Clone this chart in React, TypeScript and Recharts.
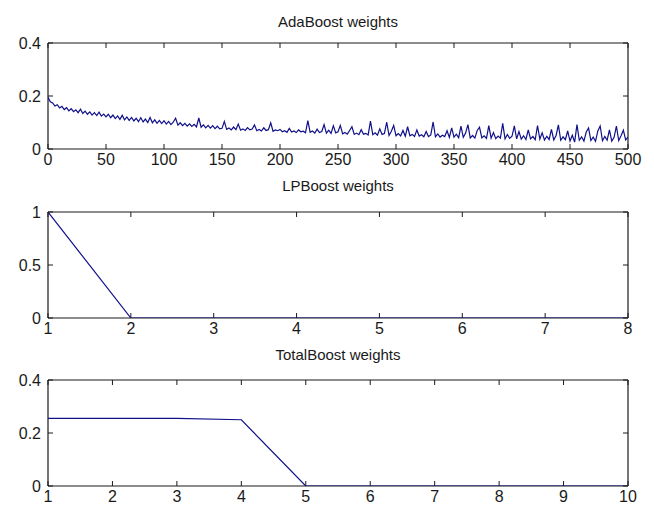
import { LineChart, Line, XAxis, YAxis, CartesianGrid } from 'recharts';

// AdaBoost weights, read every 2nd iteration (0..500)
const adaWeights = [
  0.195, 0.178, 0.174, 0.162, 0.167, 0.155, 0.161, 0.149, 0.156, 0.144, 0.152, 0.141, 0.148, 0.137, 0.150, 0.134, 0.143, 0.131, 0.140, 0.128, 0.137, 0.126, 0.139, 0.124, 0.132,
  0.121, 0.131, 0.118, 0.128, 0.115, 0.125, 0.112, 0.127, 0.110, 0.121, 0.108, 0.119, 0.106, 0.116, 0.103, 0.118, 0.102, 0.113, 0.100, 0.119, 0.099, 0.110, 0.097, 0.108, 0.096,
  0.107, 0.094, 0.104, 0.092, 0.101, 0.116, 0.090, 0.099, 0.088, 0.097, 0.086, 0.095, 0.085, 0.093, 0.083, 0.117, 0.082, 0.091, 0.080, 0.089, 0.079, 0.088, 0.077, 0.086, 0.076,
  0.078, 0.104, 0.074, 0.079, 0.072, 0.083, 0.073, 0.094, 0.071, 0.076, 0.070, 0.081, 0.072, 0.075, 0.091, 0.069, 0.074, 0.068, 0.080, 0.070, 0.073, 0.099, 0.067, 0.072, 0.069,
  0.074, 0.065, 0.069, 0.063, 0.078, 0.064, 0.068, 0.062, 0.072, 0.065, 0.067, 0.061, 0.107, 0.063, 0.068, 0.060, 0.075, 0.062, 0.066, 0.092, 0.060, 0.071, 0.059, 0.088, 0.061,
  0.065, 0.089, 0.057, 0.062, 0.056, 0.070, 0.084, 0.055, 0.060, 0.054, 0.073, 0.056, 0.059, 0.053, 0.105, 0.054, 0.061, 0.052, 0.076, 0.055, 0.058, 0.101, 0.051, 0.067, 0.089,
  0.050, 0.058, 0.049, 0.070, 0.048, 0.084, 0.050, 0.055, 0.047, 0.072, 0.049, 0.054, 0.046, 0.066, 0.047, 0.053, 0.102, 0.046, 0.057, 0.045, 0.052, 0.047, 0.069, 0.044, 0.080,
  0.045, 0.056, 0.043, 0.086, 0.044, 0.060, 0.092, 0.042, 0.051, 0.041, 0.070, 0.082, 0.042, 0.050, 0.040, 0.088, 0.041, 0.062, 0.039, 0.049, 0.041, 0.097, 0.038, 0.055, 0.040,
  0.048, 0.087, 0.038, 0.066, 0.037, 0.050, 0.036, 0.072, 0.038, 0.047, 0.035, 0.088, 0.037, 0.061, 0.034, 0.048, 0.036, 0.074, 0.034, 0.051, 0.091, 0.033, 0.046, 0.035, 0.068,
  0.030, 0.052, 0.026, 0.092, 0.033, 0.046, 0.030, 0.064, 0.079, 0.032, 0.045, 0.029, 0.068, 0.087, 0.031, 0.047, 0.033, 0.072, 0.030, 0.044, 0.086, 0.032, 0.050, 0.071, 0.034,
  0.045,
];
const adaXTicks = [0, 50, 100, 150, 200, 250, 300, 350, 400, 450, 500];
const adaYTicks = [0, 0.2, 0.4];

const lpIter = [1, 2, 3, 4, 5, 6, 7, 8];
const lpWeights = [1, 0, 0, 0, 0, 0, 0, 0];
const lpYTicks = [0, 0.5, 1];

const totalIter = [1, 2, 3, 4, 5, 6, 7, 8, 9, 10];
const totalWeights = [0.255, 0.255, 0.255, 0.25, 0, 0, 0, 0, 0, 0];
const totalYTicks = [0, 0.2, 0.4];

const adaData = adaWeights.map((w, i) => ({ x: i * 2, w }));
const lpData = lpIter.map((x, i) => ({ x, w: lpWeights[i] }));
const totalData = totalIter.map((x, i) => ({ x, w: totalWeights[i] }));

const W = 654;
const H = 169;
const LEFT = 48;
const RIGHT = 628;
const TOP = 43;
const BOTTOM = 149;
const FONT = '"Liberation Sans", Arial, sans-serif';
const AXIS = '#1a1a1a';
const LINE = '#10108a';

const XTick = (props: any) => {
  const { x, y, payload } = props;
  return (
    <g>
      <line x1={x} x2={x} y1={BOTTOM} y2={BOTTOM - 5} stroke={AXIS} />
      <line x1={x} x2={x} y1={TOP} y2={TOP + 5} stroke={AXIS} />
      <text x={x} y={y} dy="0.71em" textAnchor="middle" fill={AXIS} fontSize={16} fontFamily={FONT}>
        {payload.value}
      </text>
    </g>
  );
};

const YTick = (props: any) => {
  const { x, y, payload } = props;
  return (
    <g>
      <line x1={LEFT} x2={LEFT + 5} y1={y} y2={y} stroke={AXIS} />
      <line x1={RIGHT - 5} x2={RIGHT} y1={y} y2={y} stroke={AXIS} />
      <text x={x} y={y} dy="0.36em" textAnchor="end" fill={AXIS} fontSize={16} fontFamily={FONT}>
        {payload.value}
      </text>
    </g>
  );
};

type PanelProps = {
  title: string;
  top: number;
  titleTop: number;
  data: { x: number; w: number }[];
  xDomain: [number, number];
  xTicks: number[];
  yDomain: [number, number];
  yTicks: number[];
};

const Panel = ({ title, top, titleTop, data, xDomain, xTicks, yDomain, yTicks }: PanelProps) => (
  <div style={{ position: 'absolute', left: 0, top, width: W, height: H }}>
    <div
      style={{
        position: 'absolute',
        left: LEFT,
        width: RIGHT - LEFT,
        top: titleTop,
        height: 20,
        lineHeight: '20px',
        textAlign: 'center',
        fontFamily: FONT,
        fontSize: 15,
        color: AXIS,
      }}
    >
      {title}
    </div>
    <LineChart width={W} height={H} data={data} margin={{ top: TOP, right: W - RIGHT, bottom: 0, left: 0 }}>
      {/* plot frame, drawn under the line */}
      <CartesianGrid
        horizontalPoints={[TOP, BOTTOM]}
        verticalPoints={[LEFT, RIGHT]}
        stroke={AXIS}
        strokeWidth={1.2}
        strokeDasharray=""
      />
      <XAxis
        dataKey="x"
        type="number"
        domain={xDomain}
        ticks={xTicks}
        interval={0}
        allowDataOverflow
        height={H - BOTTOM}
        tickSize={0}
        tickMargin={5}
        axisLine={false}
        tickLine={false}
        tick={<XTick />}
      />
      <YAxis
        type="number"
        domain={yDomain}
        ticks={yTicks}
        interval={0}
        allowDataOverflow
        width={LEFT}
        tickSize={0}
        tickMargin={7}
        axisLine={false}
        tickLine={false}
        tick={<YTick />}
      />
      <Line type="linear" dataKey="w" stroke={LINE} strokeWidth={1.2} dot={false} isAnimationActive={false} />
    </LineChart>
  </div>
);

export default function App() {
  return (
    <div style={{ position: 'absolute', left: 0, top: 0, width: W, height: 508, background: '#fff' }}>
      <Panel title="AdaBoost weights" top={0} titleTop={12} data={adaData} xDomain={[0, 500]} xTicks={adaXTicks} yDomain={[0, 0.4]} yTicks={adaYTicks} />
      <Panel title="LPBoost weights" top={169} titleTop={7} data={lpData} xDomain={[1, 8]} xTicks={lpIter} yDomain={[0, 1]} yTicks={lpYTicks} />
      <Panel title="TotalBoost weights" top={337} titleTop={8} data={totalData} xDomain={[1, 10]} xTicks={totalIter} yDomain={[0, 0.4]} yTicks={totalYTicks} />
    </div>
  );
}
